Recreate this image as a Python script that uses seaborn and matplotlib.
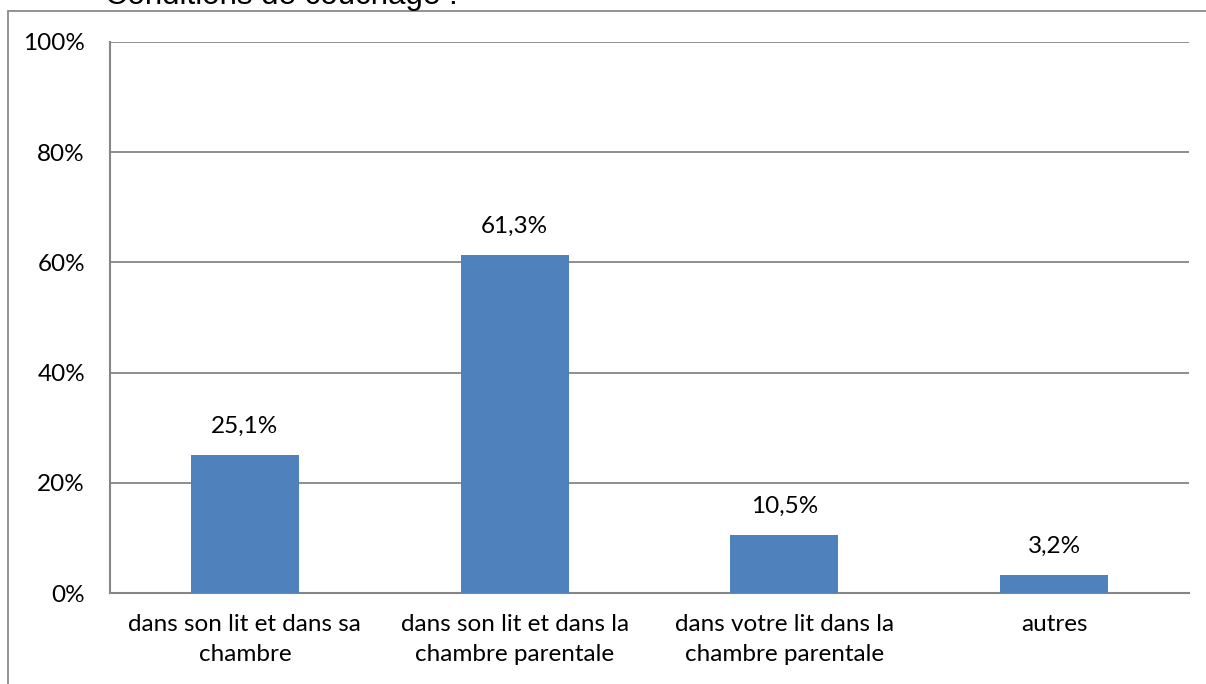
import matplotlib
matplotlib.use("Agg")
import matplotlib.pyplot as plt
import matplotlib.ticker as mticker
from matplotlib.lines import Line2D
import pandas as pd
import seaborn as sns

# data
categories = [
    "dans son lit et dans sa\nchambre",
    "dans son lit et dans la\nchambre parentale",
    "dans votre lit dans la\nchambre parentale",
    "autres",
]
values = [25.1, 61.3, 10.5, 3.2]
value_labels = ["25,1%", "61,3%", "10,5%", "3,2%"]
yticks = [0, 20, 40, 60, 80, 100]
title = "Conditions de couchage :"

sns.set_style("white")
plt.rcParams["font.family"] = ["Lato", "DejaVu Sans"]

W, H = 1206, 684
fig = plt.figure(figsize=(W / 100, H / 100), dpi=100)
ax = fig.add_axes([110 / W, 1 - 593 / H, (1189 - 110) / W, (593 - 42) / H])

df = pd.DataFrame({"cat": categories, "val": values})
sns.barplot(data=df, x="cat", y="val", color="#4F81BD", width=0.4, ax=ax,
            saturation=1, linewidth=0, zorder=3)

grid_c = "#868686"
fs = 17.5
ax.set_xlim(-0.5, 3.5)
ax.set_ylim(0, 100)
ax.set_yticks(yticks)
ax.yaxis.set_major_formatter(mticker.FuncFormatter(lambda v, p: f"{v:.0f}%"))
ax.yaxis.grid(True, color=grid_c, linewidth=1.3, zorder=0)
ax.set_axisbelow(True)
ax.set_xlabel("")
ax.set_ylabel("")
ax.tick_params(axis="y", length=0, pad=18, labelsize=fs, labelcolor="black")
ax.tick_params(axis="x", length=0, pad=15, labelsize=fs, labelcolor="black")
for lab in ax.get_xticklabels():
    lab.set_linespacing(1.55)

for s in ["top", "right"]:
    ax.spines[s].set_visible(False)
for s in ["left", "bottom"]:
    ax.spines[s].set_color(grid_c)
    ax.spines[s].set_linewidth(1.5)

ax.bar_label(ax.containers[0], labels=value_labels, padding=13, fontsize=fs, color="black")

# outer frame of the original chart area (partly cropped)
fig.add_artist(Line2D([8 / W, 8 / W], [0, 1 - 11 / H], transform=fig.transFigure,
                      color="#8a8a8a", linewidth=1.3))
fig.add_artist(Line2D([8 / W, 1], [1 - 11 / H, 1 - 11 / H], transform=fig.transFigure,
                      color="#8a8a8a", linewidth=1.3))

# title mostly cut off at the top, as in the original
fig.text(105 / W, 1 - 4 / H, title, fontsize=22.5, family=["Liberation Sans", "DejaVu Sans"],
         va="baseline", ha="left", color="black")

fig.savefig("out.png", dpi=100)
